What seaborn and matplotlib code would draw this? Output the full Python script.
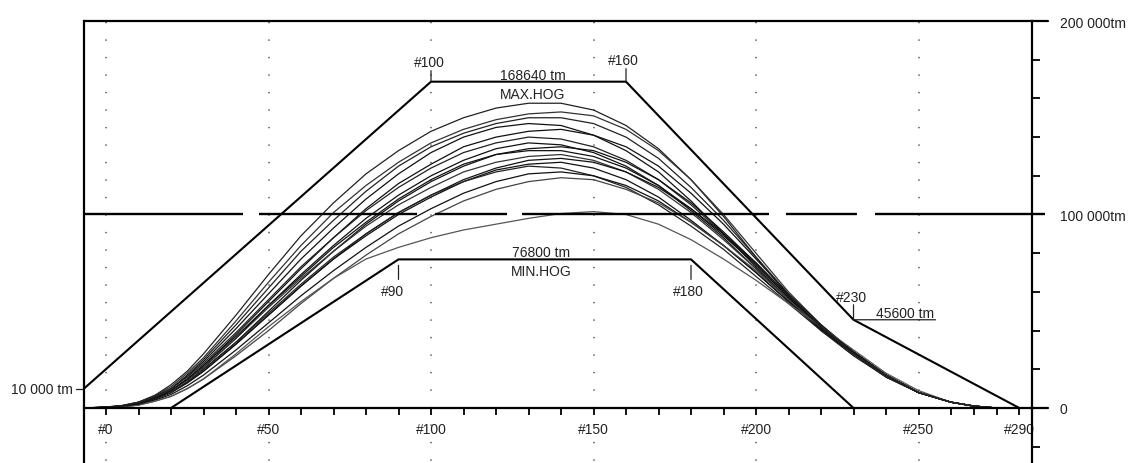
import numpy as np
import matplotlib
matplotlib.use("Agg")
import matplotlib.pyplot as plt
import seaborn as sns

# frame numbers where the hogging curves were read (values in 1000 tm)
frames = [-7, 0, 5, 10, 15, 20, 25, 30, 40, 50, 60, 70, 80, 90, 100, 110, 120, 130, 140,
          150, 160, 170, 180, 190, 200, 210, 220, 230, 240, 250, 260, 270, 280, 290]

c01 = [0, 0.5, 1.3, 3, 6.5, 12, 19, 28, 48, 69, 89, 106, 121, 133, 143, 150, 155, 157.5, 157.5, 154, 146, 134, 118, 99, 78, 58, 41, 28, 17, 8, 3, 1, 0, 0]
c02 = [0, 0.5, 1.3, 3, 6.5, 11, 18, 26, 45, 65, 84, 101, 115, 127, 137, 144, 149, 152, 153, 151, 144, 133, 118, 100, 80, 60, 43, 29, 17, 8, 3, 1, 0, 0]
c03 = [0, 0.4, 1.1, 2.5, 6, 10, 16.5, 24, 41, 59, 77, 93, 108, 121, 132, 140, 145, 147, 146, 141, 133, 122, 107, 90, 73, 56, 40, 27, 16, 8, 3, 1, 0, 0]
c04 = [0, 0.4, 1.1, 2.5, 5.5, 9, 15, 22, 38, 55, 72, 88, 103, 116, 126, 135, 140, 143, 144, 141, 135, 125, 111, 95, 77, 59, 43, 29, 17, 8, 3, 1, 0, 0]
c05 = [0, 0.4, 1.1, 2.5, 5.8, 10, 16, 23, 39, 56, 73, 88, 102, 114, 124, 132, 137, 140, 139, 135, 128, 118, 105, 90, 74, 57, 41, 28, 17, 8, 3, 1, 0, 0]
c06 = [0, 0.3, 0.9, 2, 5, 9, 14.5, 21, 36, 53, 69, 84, 98, 110, 120, 128, 134, 137, 136, 132, 125, 115, 102, 88, 72, 56, 41, 28, 17, 8, 3, 1, 0, 0]
c07 = [0, 0.3, 0.9, 2, 4.6, 8, 13.5, 20, 34, 50, 66, 81, 95, 107, 117, 125, 131, 134, 135, 133, 127, 118, 106, 91, 75, 58, 42, 29, 17, 8, 3, 1, 0, 0]
c08 = [0, 0.3, 0.9, 2, 5, 9, 14.5, 21, 36, 52, 67, 81, 94, 105, 114, 122, 127, 130, 131, 128, 122, 113, 101, 87, 72, 56, 41, 28, 16, 8, 3, 1, 0, 0]
c09 = [0, 0.3, 0.9, 2, 4.6, 8, 13, 19, 33, 48, 63, 77, 90, 101, 110, 118, 124, 128, 129, 127, 122, 114, 103, 90, 75, 58, 42, 29, 17, 8, 3, 1, 0, 0]
c10 = [0, 0.3, 0.9, 2, 4.6, 8, 13, 19, 33, 48, 63, 77, 89, 100, 109, 117, 123, 126, 127, 124, 118, 109, 97, 84, 70, 55, 41, 28, 17, 8, 3, 1, 0, 0]
c11 = [0, 0.3, 0.9, 2, 4.6, 8, 13.5, 20, 34, 49, 64, 78, 90, 101, 110, 117, 122, 125, 124, 120, 114, 105, 94, 82, 68, 54, 40, 28, 16, 8, 3, 1, 0, 0]
c12 = [0, 0.3, 0.8, 1.8, 4, 7, 11.5, 17, 30, 44, 58, 71, 83, 94, 103, 111, 117, 121, 122, 120, 115, 107, 96, 84, 70, 55, 41, 28, 17, 8, 3, 1, 0, 0]
c13 = [0, 0.2, 0.6, 1.5, 3.5, 6, 10, 15, 27, 40, 54, 67, 79, 90, 99, 107, 113, 117, 119, 118, 113, 106, 96, 84, 71, 56, 42, 29, 17, 8, 3, 1, 0, 0]
c14 = [0, 0.2, 0.6, 1.5, 3.5, 6, 10, 15, 28, 42, 55, 67, 77, 83, 88, 92, 95, 98, 100.5, 101.5, 100, 95, 87, 77, 66, 54, 42, 30, 18, 9, 3, 1, 0, 0]
c15 = [0, 0.3, 0.9, 2, 5, 9, 15, 22, 37, 53, 68, 83, 96, 108, 118, 126, 131, 133, 133, 130, 124, 115, 103, 89, 74, 57, 42, 29, 17, 8, 3, 1, 0, 0]
c16 = [0, 0.4, 1.2, 3, 6, 10, 17, 25, 43, 62, 81, 97, 112, 125, 135, 142, 147, 150, 150, 147, 140, 129, 114, 97, 78, 59, 42, 28, 17, 8, 3, 1, 0, 0]

curves = [c01, c02, c03, c04, c05, c06, c07, c08, c09, c10, c11, c12, c13, c14, c15, c16]
curve_cols = ["#222", "#333", "#111", "#111", "#222", "#111", "#111", "#333",
              "#111", "#111", "#222", "#111", "#444", "#555", "#111", "#222"]

# permissible hogging envelopes
max_frames = [-6.8, 100, 160, 230, 290]
max_vals = [10, 168.64, 168.64, 45.6, 0]
min_frames = [20, 90, 180, 230]
min_vals = [0, 76.8, 76.8, 0]

major_frames = [0, 50, 100, 150, 200, 250, 290]
grid_frames = [0, 50, 100, 150, 200, 250]
right_ticks = list(range(-20, 201, 20))
right_labels = {0: "0", 100: "100 000tm", 200: "200 000tm"}

# dash lengths (pt) of the 100 000 tm line
dash_seq = (114.5, 11.5, 113.8, 13.0, 51.8, 10.8, 177.8, 12.2, 51.1, 13.0, 122.4, 80.0)


def fwd(f):
    f = np.asarray(f, dtype=float)
    return np.where(f <= 260, f, 260 + (f - 260) * 0.7)


def inv(p):
    p = np.asarray(p, dtype=float)
    return np.where(p <= 260, p, 260 + (p - 260) / 0.7)


sns.set_style("white")
plt.rcParams["font.family"] = ["Liberation Sans", "DejaVu Sans"]
plt.rcParams["lines.scale_dashes"] = False

fig = plt.figure(figsize=(11.29, 4.64), dpi=100)
ax = fig.add_axes([84 / 1129, 0, 948 / 1129, 442 / 464])

for c, col in zip(curves, curve_cols):
    sns.lineplot(x=frames, y=c, ax=ax, color=col, lw=0.9, sort=False)

sns.lineplot(x=max_frames, y=max_vals, ax=ax, color="black", lw=1.5, sort=False)
sns.lineplot(x=min_frames, y=min_vals, ax=ax, color="black", lw=1.5, sort=False)

ax.set_xscale("function", functions=(fwd, inv))
ax.set_xlim(-6.77, 295.6)
ax.set_ylim(-28.424, 200)

# dotted verticals
for f in grid_frames:
    ax.axvline(f, color="#555", lw=1.1, linestyle=(11.0, (1.0, 11.6)), zorder=0)

# dashed 100 000 tm line
ax.axhline(100, xmin=0, xmax=(1045 - 84) / 948, color="black", lw=1.7,
           linestyle=(0, dash_seq), clip_on=False)
# top line and zero line running past the right axis
ax.axhline(200, xmin=0, xmax=(1048 - 84) / 948, color="black", lw=1.6, clip_on=False)
ax.axhline(0, xmin=1, xmax=(1048 - 84) / 948, color="black", lw=1.6, clip_on=False)

ax.spines["top"].set_visible(False)
ax.spines["bottom"].set_position(("data", 0))
for s in ["left", "right", "bottom"]:
    ax.spines[s].set_linewidth(1.6)
    ax.spines[s].set_color("black")

ax.set_xticks(major_frames)
ax.set_xticklabels([f"#{f}" for f in major_frames])
ax.set_xticks([f for f in range(10, 290, 10) if f not in major_frames], minor=True)
ax.tick_params(axis="x", which="both", bottom=True, direction="out", length=5, width=1.3,
               color="black", labelsize=10, labelcolor="#222", pad=5)

ax.yaxis.tick_right()
ax.set_yticks(right_ticks)
ax.set_yticklabels([right_labels.get(t, "") for t in right_ticks])
ax.tick_params(axis="y", which="major", right=True, direction="out", length=5.8, width=1.3,
               color="black", labelsize=10, labelcolor="#222", pad=14)
ax.set_xlabel("")
ax.set_ylabel("")

# left tick for 10 000 tm
yt = ax.get_yaxis_transform()
ax.plot([-8 / 948, 0], [10, 10], transform=yt, color="#222", lw=0.9, clip_on=False)
ax.text(-11 / 948, 10, "10 000 tm", transform=yt, ha="right", va="center",
        fontsize=10, color="#222")

tick_kw = dict(arrowstyle="-", lw=0.9, color="#222", shrinkA=0, shrinkB=0)
txt_kw = dict(textcoords="offset pixels", ha="center", va="center", fontsize=10, color="#222")

# MAX.HOG labels
ax.annotate("", xy=(max_frames[1], max_vals[1]), xytext=(0, 11), textcoords="offset pixels", arrowprops=tick_kw)
ax.annotate("#100", xy=(max_frames[1], max_vals[1]), xytext=(-2, 20), **txt_kw)
ax.annotate("", xy=(max_frames[2], max_vals[2]), xytext=(0, 13), textcoords="offset pixels", arrowprops=tick_kw)
ax.annotate("#160", xy=(max_frames[2], max_vals[2]), xytext=(-3, 22), **txt_kw)
mid_max = (max_frames[1] + max_frames[2]) / 2
ax.annotate("168640 tm", xy=(mid_max, max_vals[1]), xytext=(4, 7), **txt_kw)
ax.annotate("MAX.HOG", xy=(mid_max, max_vals[1]), xytext=(4, -12), **txt_kw)

# MIN.HOG labels
for fr, dx in [(min_frames[1], -6), (min_frames[2], -3)]:
    ax.annotate("", xy=(fr, min_vals[1] - 6 / 1.935), xytext=(0, -14), textcoords="offset pixels", arrowprops=tick_kw)
    ax.annotate(f"#{fr}", xy=(fr, min_vals[1]), xytext=(dx, -32), **txt_kw)
mid_min = (min_frames[1] + min_frames[2]) / 2
ax.annotate("76800 tm", xy=(mid_min, min_vals[1]), xytext=(-4, 7), **txt_kw)
ax.annotate("MIN.HOG", xy=(mid_min, min_vals[1]), xytext=(-4, -12), **txt_kw)

# #230 knuckle
ax.annotate("", xy=(max_frames[3], max_vals[3]), xytext=(0, 15), textcoords="offset pixels", arrowprops=tick_kw)
ax.annotate("#230", xy=(max_frames[3], max_vals[3]), xytext=(-2, 23), **txt_kw)
ax.annotate("", xy=(max_frames[3], max_vals[3]), xytext=(82, 0), textcoords="offset pixels",
            arrowprops=tick_kw)
ax.annotate("45600 tm", xy=(max_frames[3], max_vals[3]), xytext=(52, 7), **txt_kw)

fig.savefig("out.png", dpi=100)
